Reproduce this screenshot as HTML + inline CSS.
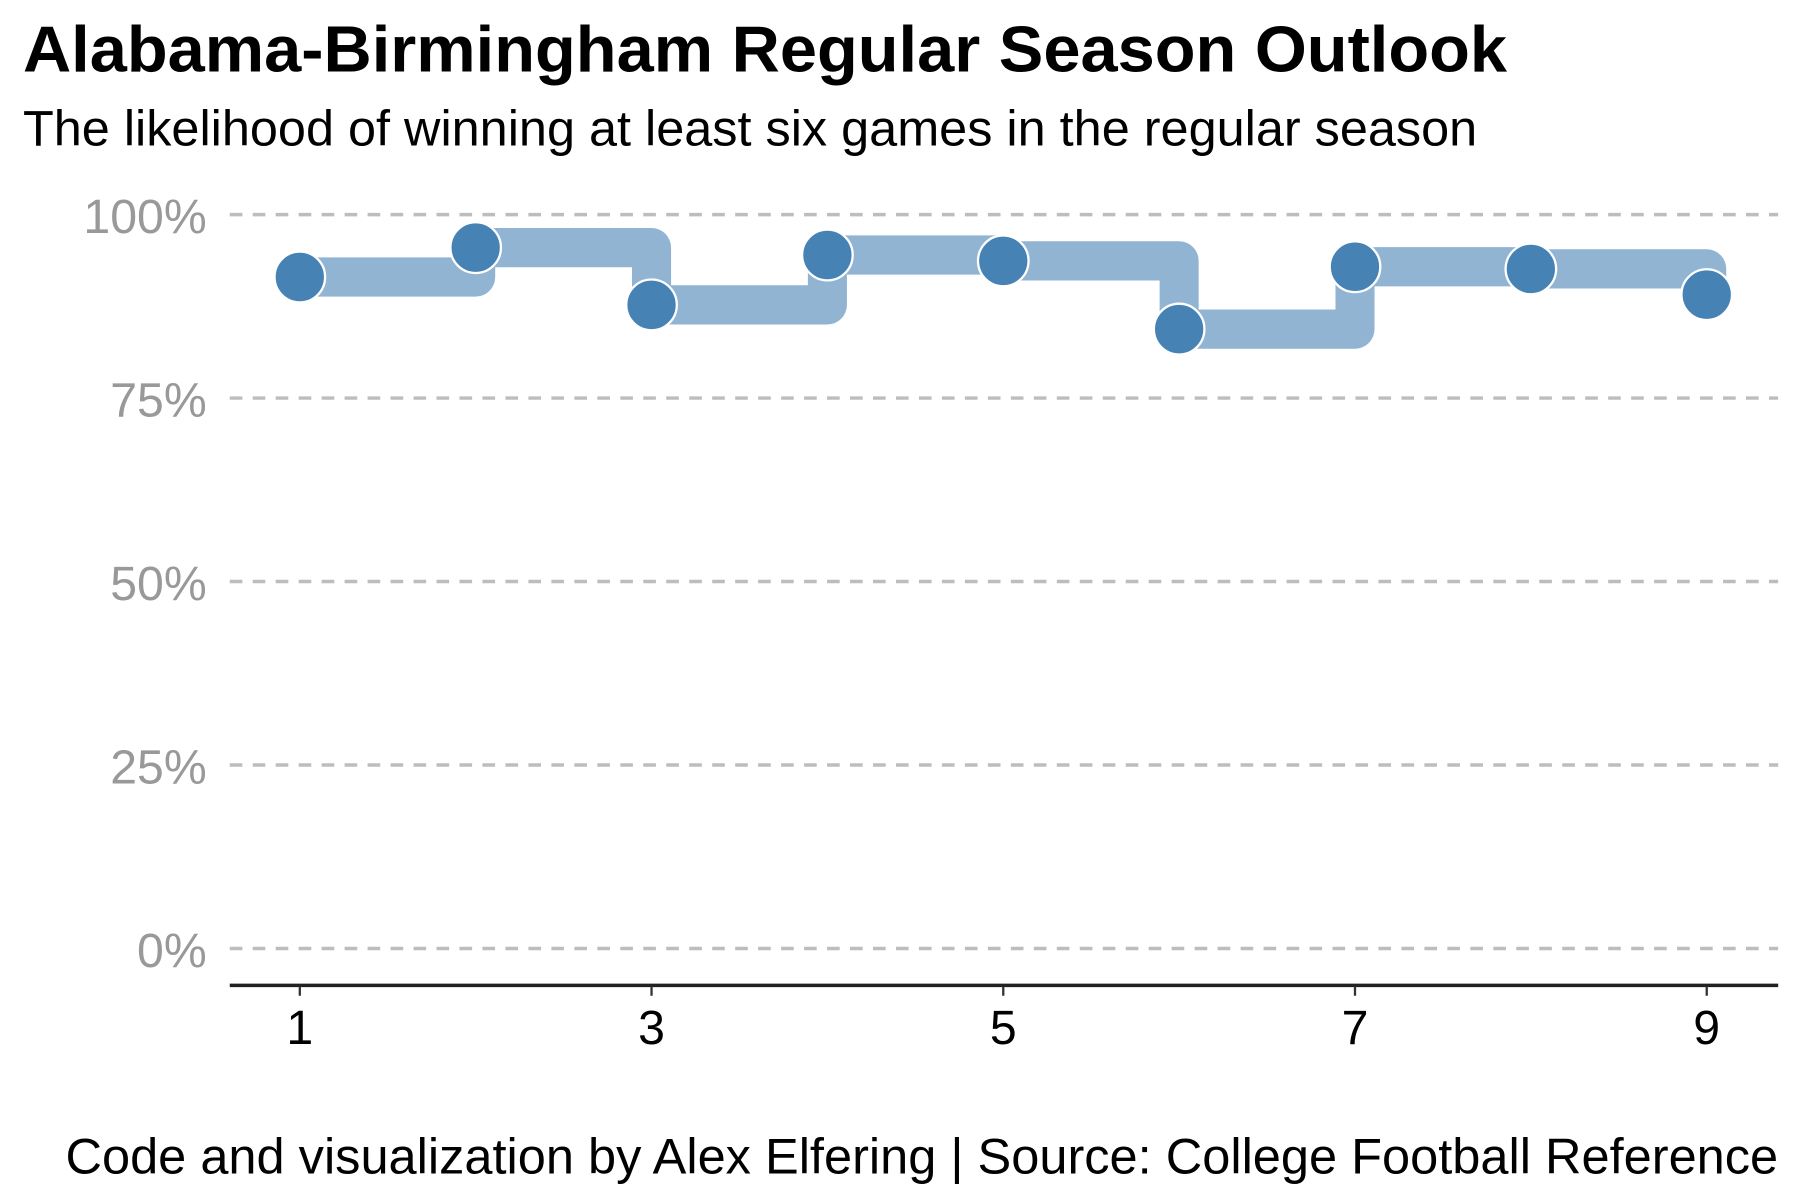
<!DOCTYPE html>
<html><head><meta charset="utf-8"><style>
html,body{margin:0;padding:0;background:#fff;}
svg{display:block;font-family:"Liberation Sans",Arial,sans-serif;}
</style></head><body>
<svg width="1800" height="1200" viewBox="0 0 1567 1040" preserveAspectRatio="none" xmlns="http://www.w3.org/2000/svg">
<text x="20" y="62" font-size="56" font-weight="bold" fill="#000" textLength="1292" lengthAdjust="spacingAndGlyphs">Alabama-Birmingham Regular Season Outlook</text>
<text x="20" y="126" font-size="43" fill="#000" textLength="1266" lengthAdjust="spacingAndGlyphs">The likelihood of winning at least six games in the regular season</text>
<g id="grid"></g>
<g id="series"></g>
<line x1="200" x2="1548" y1="854" y2="854" stroke="#222" stroke-width="3"/>
<g id="xaxis"></g>
<text x="1548" y="1017" font-size="43.5" text-anchor="end" fill="#000" textLength="1491" lengthAdjust="spacingAndGlyphs">Code and visualization by Alex Elfering | Source: College Football Reference</text>
</svg>
<script>
const games = [1,2,3,4,5,6,7,8,9];
const probs = [91.5,95.5,87.7,94.5,93.7,84.4,92.9,92.6,89.1];
const yTicks = [0,25,50,75,100];
const yTickLabels = ["0%","25%","50%","75%","100%"];
const xTicks = [1,3,5,7,9];
const NS="http://www.w3.org/2000/svg";
const xs = g => 261 + (g-1)*153.1;
const ys = v => 822 - v*6.36;
const grid=document.getElementById('grid'), ser=document.getElementById('series'), xa=document.getElementById('xaxis');
function mk(tag,attrs,parent){const e=document.createElementNS(NS,tag);for(const k in attrs)e.setAttribute(k,attrs[k]);parent.appendChild(e);return e;}
yTicks.forEach((t,i)=>{
  const l=mk('line',{x1:200,x2:1548,y1:ys(t),y2:ys(t),stroke:'#bdbdbd','stroke-width':3,'stroke-dasharray':'11 9'},grid);
  
  
  const tx=mk('text',{x:180,y:ys(t)+16,'font-size':42,'text-anchor':'end',fill:'#999'},grid);
  tx.textContent=yTickLabels[i];
  
  
});
xTicks.forEach(t=>{
  const l=mk('line',{x1:xs(t),x2:xs(t),y1:855,y2:863,stroke:'#333','stroke-width':2},xa);
  
  
  const tx=mk('text',{x:xs(t),y:905,'font-size':42,'text-anchor':'middle',fill:'#000'},xa);
  tx.textContent=t;
  
  
});
let d='M'+xs(games[0])+' '+ys(probs[0]);
for(let i=1;i<games.length;i++){d+=' H'+xs(games[i])+' V'+ys(probs[i]);}
const p=mk('path',{d:d,fill:'none',stroke:'#92b4d3','stroke-width':34,'stroke-linejoin':'round'},ser);


games.forEach((g,i)=>{
  const c=mk('circle',{cx:xs(g),cy:ys(probs[i]),r:22,fill:'#4682b4',stroke:'#fff','stroke-width':2},ser);
  
  
});
</script>
</body></html>
